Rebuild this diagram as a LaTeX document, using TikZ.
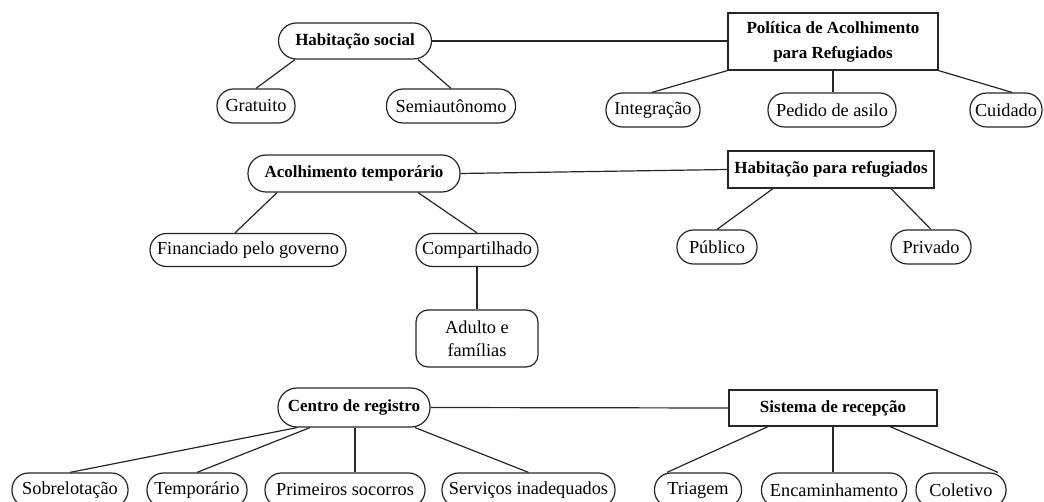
\documentclass[tikz,border=0pt]{standalone}
\usepackage{fontspec}
\setmainfont{Liberation Serif}
\newcommand\nfont{\fontsize{18.3}{23}\selectfont}
\newcommand\bfont{\fontsize{17}{25}\selectfont\bfseries}
\begin{document}
\begin{tikzpicture}[x=1pt,y=-1pt,line width=1.2pt,
  every node/.style={inner sep=0pt,text=black},
  pill/.style={draw=black!85,rounded corners=16.5pt,minimum height=34pt,font=\nfont},
  bpill/.style={draw=black!85,rounded corners=18pt,minimum height=37pt,font=\bfont},
  bbox/.style={draw=black!85,rectangle,font=\bfont,align=center},
  conn/.style={draw=black!85,line width=1.2pt}]
\useasboundingbox (0,0) rectangle (1044,502);
% row 1
\node[bpill,minimum width=153pt,minimum height=36pt] (hs) at (355,41) {Habitação social};
\node[bbox,minimum width=210pt,minimum height=57pt] (pol) at (833,41.5) {Política de Acolhimento\\para Refugiados};
\node[pill,minimum width=78pt] (grat) at (256,106) {Gratuito};
\node[pill,minimum width=129pt] (semi) at (451,106) {Semiautônomo};
\node[pill,minimum width=94pt] (integ) at (653,110) {Integração};
\node[pill,minimum width=128pt] (ped) at (832,110) {Pedido de asilo};
\node[pill,minimum width=72pt] (cuid) at (1006,110) {Cuidado};
% row 2
\node[bpill,minimum width=212pt] (at) at (354,173.5) {Acolhimento temporário};
\node[bbox,minimum width=206pt,minimum height=37pt] (hr) at (831,169.5) {Habitação para refugiados};
\node[pill,minimum width=196pt,minimum height=33pt] (fin) at (248,250) {Financiado pelo governo};
\node[pill,minimum width=122pt,minimum height=33pt] (comp) at (477,250) {Compartilhado};
\node[draw=black!85,rounded corners=12pt,minimum width=122pt,minimum height=57pt,align=center,font=\fontsize{18.3}{23}\selectfont] (adf) at (477,338.5) {Adulto e\\famílias};
\node[pill,minimum width=80pt] (pub) at (717,247) {Público};
\node[pill,minimum width=80pt] (priv) at (931,247) {Privado};
% row 3
\node[bpill,minimum width=152pt,minimum height=39pt,rounded corners=19pt] (cr) at (354,407.5) {Centro de registro};
\node[bbox,minimum width=208pt,minimum height=36pt] (sr) at (833,408) {Sistema de recepção};
\node[pill,minimum width=116pt] (sob) at (70,490) {Sobrelotação};
\node[pill,minimum width=100pt] (temp) at (197,490) {Temporário};
\node[pill,minimum width=160pt] (prim) at (345,490) {Primeiros socorros};
\node[pill,minimum width=173pt] (serv) at (528.5,490) {Serviços inadequados};
\node[pill,minimum width=87pt] (tri) at (698,490) {Triagem};
\node[pill,minimum width=145pt] (enc) at (834,490) {Encaminhamento};
\node[pill,minimum width=90pt] (col) at (961,490) {Coletivo};
% connectors row 1
\draw[conn] (hs.east) -- (hs.east -| pol.west);
\draw[conn] ([xshift=-60pt]hs.south) -- (grat.north);
\draw[conn] ([xshift=63pt]hs.south) -- (semi.north);
\draw[conn] (pol.south west) -- ([xshift=-1pt]integ.north);
\draw[conn] (pol.south) -- (pol.south |- ped.north);
\draw[conn] (pol.south east) -- ([xshift=6pt]cuid.north);
% row 2
\draw[conn] (at.east) -- (hr.west);
\draw[conn] ([xshift=-77pt]at.south) -- ([xshift=-13pt]fin.north);
\draw[conn] ([xshift=64pt]at.south) -- (comp.north);
\draw[conn] (comp.south) -- (adf.north);
\draw[conn] ([xshift=-58pt]hr.south) -- (pub.north);
\draw[conn] ([xshift=60pt]hr.south) -- (priv.north);
% row 3
\draw[conn] (cr.east) -- (sr.west);
\draw[conn] ([xshift=-57pt]cr.south) -- (sob.north);
\draw[conn] ([xshift=-44pt]cr.south) -- (temp.north);
\draw[conn] ([xshift=1pt]cr.south) -- ([xshift=10pt]prim.north);
\draw[conn] ([xshift=61pt]cr.south) -- (serv.north);
\draw[conn] ([xshift=-65pt]sr.south) -- ([xshift=-31pt]tri.north);
\draw[conn] (sr.south) -- (sr.south |- enc.north);
\draw[conn] ([xshift=57pt]sr.south) -- ([xshift=37pt]col.north);
\end{tikzpicture}
\end{document}
